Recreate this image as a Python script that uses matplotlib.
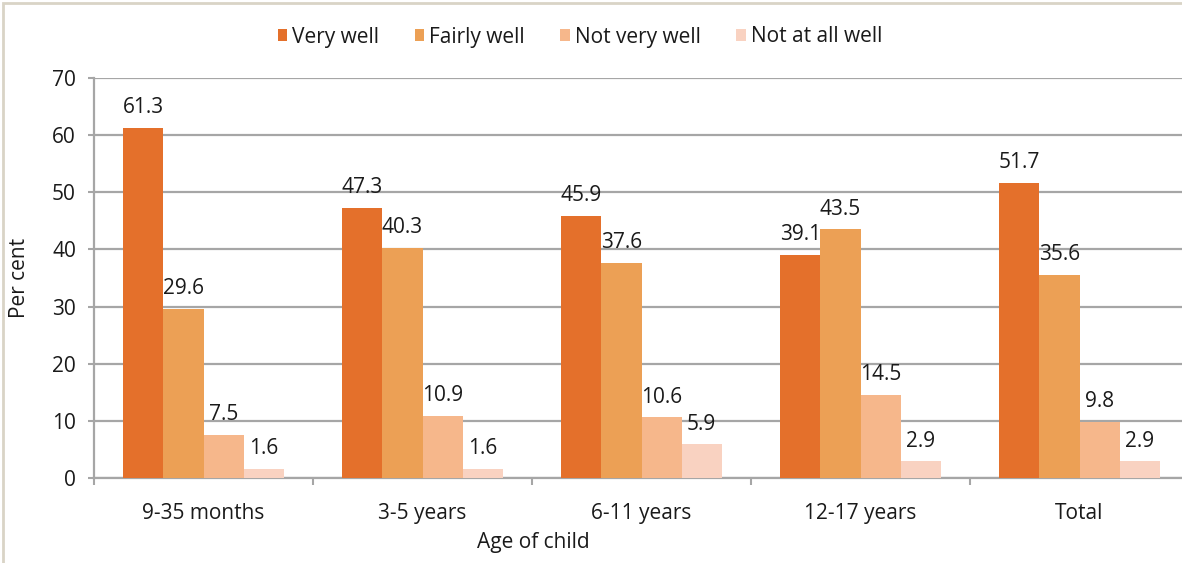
import numpy as np
import matplotlib
matplotlib.use("Agg")
import matplotlib.pyplot as plt
from matplotlib.patches import Rectangle

# data
categories = ["9-35 months", "3-5 years", "6-11 years", "12-17 years", "Total"]
series_names = ["Very well", "Fairly well", "Not very well", "Not at all well"]
very_well = [61.3, 47.3, 45.9, 39.1, 51.7]
fairly_well = [29.6, 40.3, 37.6, 43.5, 35.6]
not_very_well = [7.5, 10.9, 10.6, 14.5, 9.8]
not_at_all_well = [1.6, 1.6, 5.9, 2.9, 2.9]
y_ticks = [0, 10, 20, 30, 40, 50, 60, 70]

series = [very_well, fairly_well, not_very_well, not_at_all_well]
colors = ["#e4702b", "#eca055", "#f6b78b", "#f9d2c1"]
grid_col = "#a6a6a6"
txt_col = "#1a1a1a"
fs = 15

plt.rcParams["font.family"] = ["Open Sans", "DejaVu Sans"]
plt.rcParams["font.size"] = fs
plt.rcParams["text.color"] = txt_col
plt.rcParams["axes.labelcolor"] = txt_col
plt.rcParams["xtick.labelcolor"] = txt_col
plt.rcParams["ytick.labelcolor"] = txt_col

W, H = 1182, 563
fig = plt.figure(figsize=(W / 100, H / 100), dpi=100)

# axes pixel box: left 94, right ~1189 (cropped), bottom y=478, top y=78
left, right, top, bottom = 94, 1189, 78, 478
ax = fig.add_axes([left / W, (H - bottom) / H, (right - left) / W, (bottom - top) / H])

n = len(categories)
bw = 0.183
x = np.arange(n)
offsets = (np.arange(4) - 1.5) * bw

for s, vals in enumerate(series):
    bars = ax.bar(x + offsets[s], vals, width=bw, color=colors[s],
                  label=series_names[s], zorder=3)
    for b, v in zip(bars, vals):
        ax.annotate(f"{v:.1f}", (b.get_x() + b.get_width() / 2, v),
                    xytext=(0, 7), textcoords="offset points",
                    ha="center", va="bottom", fontsize=fs)

ax.set_xlim(-0.5, n - 0.5)
ax.set_ylim(0, 70)
ax.set_yticks(y_ticks)
ax.yaxis.grid(True, color=grid_col, linewidth=1.6, zorder=0)
ax.set_axisbelow(True)

ax.set_xticks(x)
ax.set_xticklabels(categories)
ax.set_xticks(np.arange(n + 1) - 0.5, minor=True)
ax.tick_params(axis="x", which="major", length=0, pad=18, labelsize=fs)
ax.tick_params(axis="x", which="minor", length=5, width=1.5, color=grid_col)
ax.tick_params(axis="y", length=4, width=1.5, color=grid_col, pad=9, labelsize=fs)

for side in ["top", "right"]:
    ax.spines[side].set_visible(False)
for side in ["left", "bottom"]:
    ax.spines[side].set_color(grid_col)
    ax.spines[side].set_linewidth(1.6)

ax.set_ylabel("Per cent", fontsize=fs)
ax.yaxis.set_label_coords((30 - left) / (right - left), 0.5)
ax.set_xlabel("Age of child", fontsize=fs)
ax.xaxis.set_label_coords((533 - left) / (right - left), -0.135)

fig.legend(loc="center", bbox_to_anchor=(580 / W, 1 - 37 / H), ncol=4,
           frameon=False, fontsize=fs, handlelength=0.45, handleheight=0.45,
           handletextpad=0.25, columnspacing=1.7)

# light frame around the figure (cropped on the right and bottom)
fig.patches.append(Rectangle((3 / W, -0.05), 1.1, 1 - 3 / H + 0.05,
                             transform=fig.transFigure, fill=False,
                             edgecolor="#d9d4c6", linewidth=2))

fig.savefig("out.png", dpi=100)
